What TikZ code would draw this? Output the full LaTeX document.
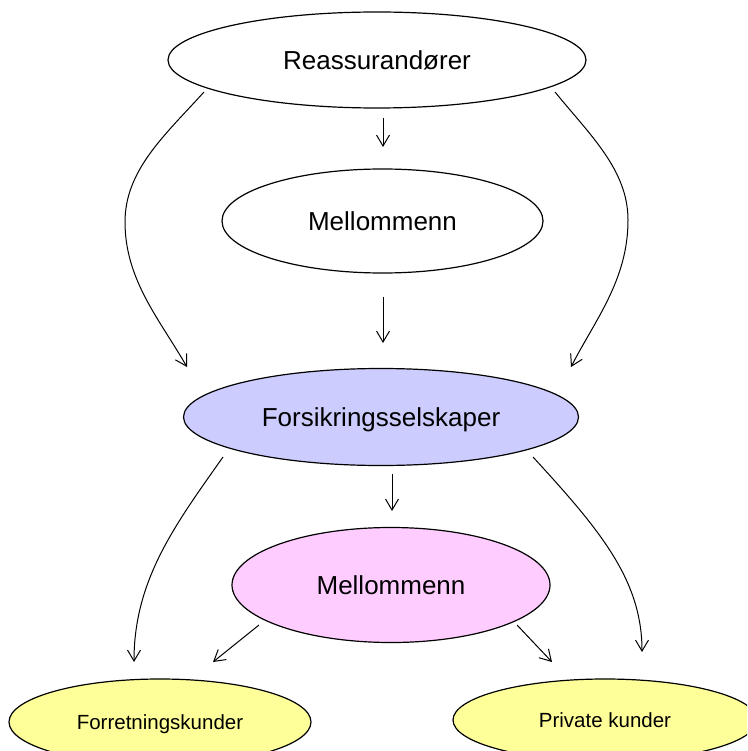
\documentclass[tikz,border=0pt]{standalone}
\usepackage{fontspec}
\setmainfont{Liberation Sans}
\usetikzlibrary{shapes.geometric,arrows.meta,calc}
\definecolor{blueF}{RGB}{204,204,255}
\definecolor{pinkF}{RGB}{255,204,255}
\definecolor{yellowF}{RGB}{255,255,153}
\tikzset{
  ell/.style={ellipse, draw, line width=1.2pt, inner sep=0pt, text depth=0pt},
  bigtxt/.style={font=\fontsize{26}{30}\selectfont, text height=18.6pt},
  smalltxt/.style={font=\fontsize{20.5}{24}\selectfont, text height=14.7pt},
  arr/.style={line width=1pt, -{Straight Barb[length=11pt,width=13pt,line width=1pt]}}
}
\begin{document}
\begin{tikzpicture}[x=1pt,y=-1pt]
\clip (0,0) rectangle (747,751);
\fill[white] (0,0) rectangle (747,751);
\node[ell,bigtxt,minimum width=418,minimum height=96] (R) at (377,60) {Reassurandører};
\node[ell,bigtxt,minimum width=321,minimum height=104] (M1) at (382.5,221) {Mellommenn};
\node[ell,bigtxt,fill=blueF,minimum width=395,minimum height=97] (F) at (381,417) {Forsikringsselskaper};
\node[ell,bigtxt,fill=pinkF,minimum width=318,minimum height=115] (P) at (391,585) {Mellommenn};
\node[ell,smalltxt,fill=yellowF,minimum width=302,minimum height=86] (K1) at (160,722) {Forretningskunder};
\node[ell,smalltxt,fill=yellowF,minimum width=304,minimum height=82] (K2) at (605,720) {Private kunder};
% straight arrows
\draw[arr] ($(R.center)+(6,58)$) -- ($(M1.center)+(0.5,-74)$);
\draw[arr] ($(M1.center)+(0.5,76)$) -- ($(F.center)+(2,-74)$);
\draw[arr] ($(F.center)+(11,57)$) -- ($(P.center)+(1,-74)$);
\draw[arr] ($(P.center)+(-132,40)$) -- ($(K1.center)+(53,-60)$);
\draw[arr] ($(P.center)+(126,40)$) -- ($(K2.center)+(-53,-58)$);
% curved arrows
\draw[arr] ($(R.center)+(-173,32)$) .. controls ($(R.center)+(-212,75)$) and (125,170) .. (125,222)
  .. controls (125,280) and ($(F.center)+(-221,-97)$) .. ($(F.center)+(-194,-50)$);
\draw[arr] ($(R.center)+(178,32)$) .. controls ($(R.center)+(213,75)$) and (628,170) .. (628,220)
  .. controls (628,280) and ($(F.center)+(214,-97)$) .. ($(F.center)+(190,-50)$);
\draw[arr] ($(F.center)+(-158,40)$) .. controls (175,525) and (134,580) .. ($(K1.center)+(-26,-60)$);
\draw[arr] ($(F.center)+(152,40)$) .. controls (600,530) and (642,580) .. ($(K2.center)+(37,-68)$);
\end{tikzpicture}
\end{document}
